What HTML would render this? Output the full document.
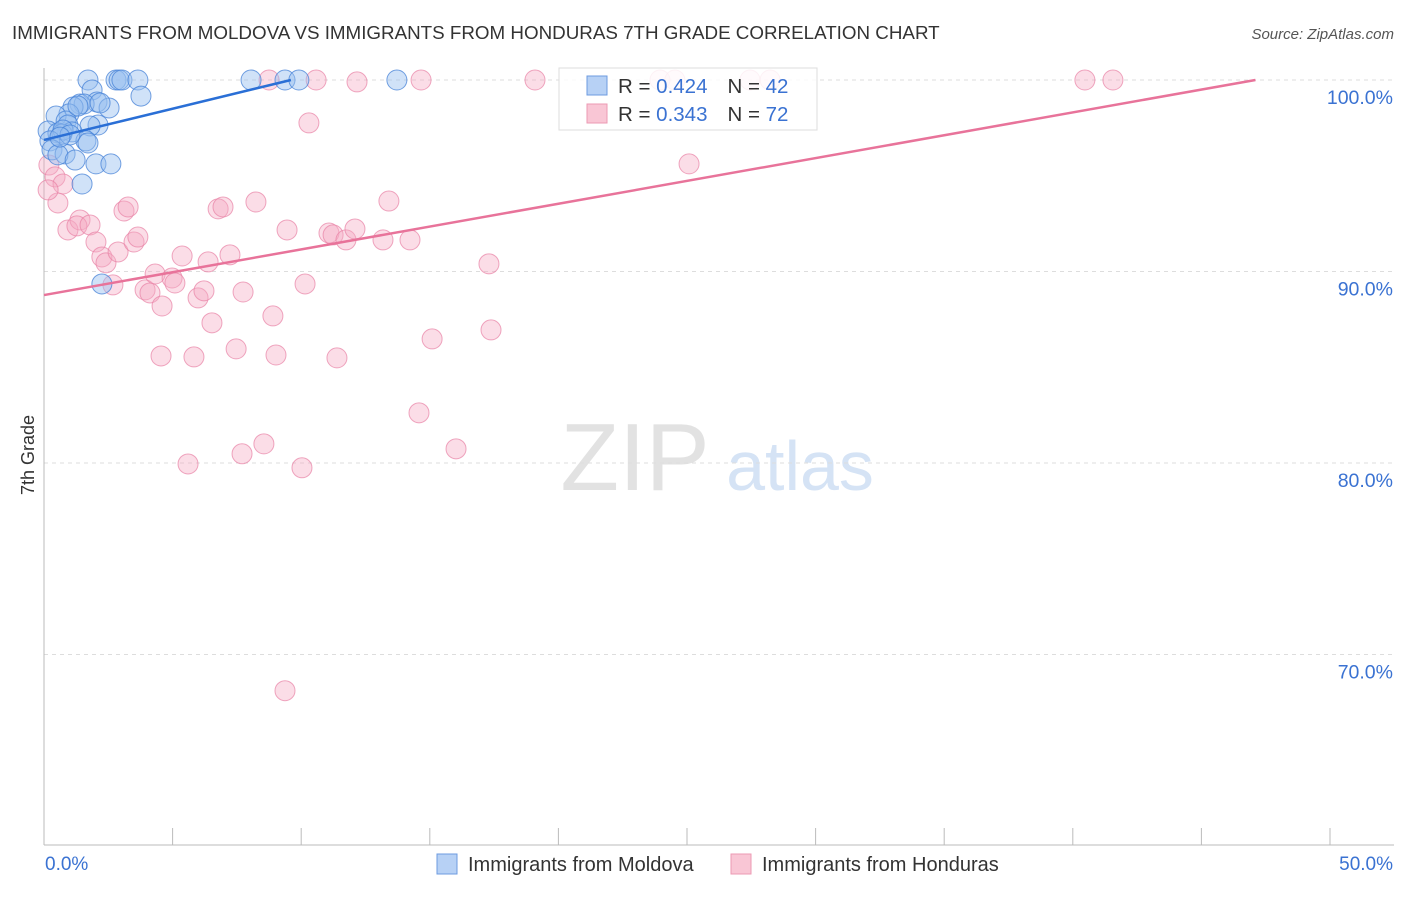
<!DOCTYPE html>
<html><head><meta charset="utf-8"><style>
body{margin:0;background:#fff;font-family:"Liberation Sans",sans-serif;}
svg text{font-family:"Liberation Sans",sans-serif;}
</style></head><body>
<svg id="chart" width="1406" height="892" viewBox="0 0 1406 892">
<text x="12" y="39" font-size="18.8" fill="#333">IMMIGRANTS FROM MOLDOVA VS IMMIGRANTS FROM HONDURAS 7TH GRADE CORRELATION CHART</text>
<text x="1394" y="39" font-size="15" fill="#555" font-style="italic" text-anchor="end">Source: ZipAtlas.com</text>
<text x="635" y="490" font-size="96" fill="#e2e2e2" font-family="Liberation Serif, serif" text-anchor="middle">ZIP</text>
<text x="800" y="490" font-size="70" fill="#d5e3f5" text-anchor="middle">atlas</text>
<text transform="translate(34,455) rotate(-90)" font-size="18" fill="#333" text-anchor="middle">7th Grade</text>
<g id="grid"></g><g id="axes"></g><g id="lines"></g><g id="pts"></g>
<g>
<rect x="559" y="68" width="258" height="62" fill="rgba(255,255,255,0.85)" stroke="#ddd"/>
<rect x="587" y="76" width="20" height="19" fill="#b7d1f5" stroke="#6d9be0"/>
<rect x="587" y="104" width="20" height="19" fill="#f9c6d5" stroke="#ec9ab3"/>
<text x="618" y="93" font-size="20.5" fill="#333">R = <tspan fill="#3a72d2">0.424</tspan><tspan dx="20">N = </tspan><tspan fill="#3a72d2">42</tspan></text>
<text x="618" y="121" font-size="20.5" fill="#333">R = <tspan fill="#3a72d2">0.343</tspan><tspan dx="20">N = </tspan><tspan fill="#3a72d2">72</tspan></text>
</g>
<g>
<rect x="437" y="854" width="20" height="20" fill="#b7d1f5" stroke="#6d9be0"/>
<text x="468" y="871" font-size="20" fill="#333">Immigrants from Moldova</text>
<rect x="731" y="854" width="20" height="20" fill="#f9c6d5" stroke="#ec9ab3"/>
<text x="762" y="871" font-size="20" fill="#333">Immigrants from Honduras</text>
</g>
</svg>
<script>
const blueX=[1.71,2.80,2.92,3.03,3.65,8.05,9.37,9.91,13.72,1.87,3.77,2.06,1.40,1.56,2.53,1.13,0.97,0.47,0.86,0.93,2.10,1.79,0.16,0.54,1.09,0.70,0.74,1.63,1.71,0.23,0.31,0.82,0.54,1.21,2.02,2.60,1.48,2.25,1.01,0.62,2.18,1.32];
const blueY=[100,100,100,100,100,100,100,100,100,99.48,99.16,98.85,98.75,98.75,98.54,98.59,98.23,98.12,97.86,97.65,97.65,97.60,97.34,97.23,97.29,97.18,97.39,96.82,96.71,96.82,96.35,96.14,96.09,95.82,95.62,95.62,94.57,89.35,97.13,97.02,98.80,98.64];
const pinkX=[0.19,0.43,0.54,0.93,0.74,1.40,1.28,1.79,2.02,2.25,2.41,2.68,2.88,3.11,3.27,3.50,3.65,3.93,4.12,4.32,4.59,4.98,5.09,5.37,5.99,6.22,6.38,6.53,6.77,6.96,7.23,7.47,7.74,8.24,8.90,9.02,9.45,10.15,10.30,11.08,11.24,11.39,11.74,12.09,13.18,13.41,14.23,14.58,15.09,17.30,17.38,25.08,4.55,5.83,5.60,7.70,8.55,10.03,16.02,9.37,8.75,10.58,12.17,14.66,19.09,23.95,24.53,27.45,28.23,40.47,41.56,0.16];
const pinkY=[95.56,94.94,93.58,92.17,94.57,92.69,92.38,92.43,91.54,90.76,90.45,89.30,91.02,93.16,93.37,91.54,91.80,89.04,88.88,89.87,88.20,89.66,89.40,90.81,88.62,88.99,90.50,87.32,93.27,93.37,90.87,85.96,88.93,93.63,87.68,85.64,92.17,89.35,97.76,92.01,91.91,85.49,91.65,92.22,91.65,93.68,91.65,82.62,86.48,90.40,86.95,95.62,85.59,85.54,79.95,80.48,81.00,79.75,80.74,68.11,100,100,99.9,100,100,100,100,100,100,100,100,94.26];
const yTicks=[100,90,80,70];
const yTickLabels=["100.0%","90.0%","80.0%","70.0%"];
const xTicks=[0,5,10,15,20,25,30,35,40,45,50];
const blueLine=[[0,96.87],[9.6,100]];
const pinkLine=[[0,88.77],[47.1,100]];
const NS="http://www.w3.org/2000/svg";
const sx=v=>44+v/50*1286;
const sy=v=>80+(100-v)*19.15;
function mk(tag,attrs,parent){const e=document.createElementNS(NS,tag);for(const k in attrs)e.setAttribute(k,attrs[k]);document.getElementById(parent).appendChild(e);return e;}
yTicks.forEach((t,i)=>{
 const g=mk('line',{x1:44,x2:1394,y1:sy(t),y2:sy(t),stroke:'#ddd','stroke-dasharray':'4,4'},'grid');
 
 
 const l=mk('text',{x:1393,y:sy(t)+24,'font-size':19.5,fill:'#3a72d2','text-anchor':'end'},'grid');
 l.textContent=yTickLabels[i];
 
 
});
const ax=mk('line',{x1:44,x2:44,y1:68,y2:845,stroke:'#bbb'},'axes');


const bx=mk('line',{x1:44,x2:1394,y1:845,y2:845,stroke:'#bbb'},'axes');


xTicks.forEach(t=>{
 const tk=mk('line',{x1:sx(t),x2:sx(t),y1:828,y2:845,stroke:'#bbb'},'axes');
 
 
});
const xl0=mk('text',{x:45,y:870,'font-size':19,fill:'#3a72d2'},'axes');xl0.textContent=xTicks[0].toFixed(1)+'%';


const xl1=mk('text',{x:1393,y:870,'font-size':19,fill:'#3a72d2','text-anchor':'end'},'axes');xl1.textContent=xTicks[xTicks.length-1].toFixed(1)+'%';


pinkX.forEach((x,i)=>{
 const c=mk('circle',{cx:sx(x),cy:sy(pinkY[i]),r:10,fill:'rgba(245,170,195,0.4)',stroke:'rgba(232,130,165,0.7)','stroke-width':1},'pts');
 
 
});
blueX.forEach((x,i)=>{
 const c=mk('circle',{cx:sx(x),cy:sy(blueY[i]),r:10,fill:'rgba(150,190,240,0.45)',stroke:'rgba(70,130,215,0.75)','stroke-width':1},'pts');
 
 
});
const bl=mk('line',{x1:sx(blueLine[0][0]),y1:sy(blueLine[0][1]),x2:sx(blueLine[1][0]),y2:sy(blueLine[1][1]),stroke:'#2a6fd6','stroke-width':2.5},'pts');


const pl=mk('line',{x1:sx(pinkLine[0][0]),y1:sy(pinkLine[0][1]),x2:sx(pinkLine[1][0]),y2:sy(pinkLine[1][1]),stroke:'#e8739a','stroke-width':2.5},'pts');


</script>
</body></html>
